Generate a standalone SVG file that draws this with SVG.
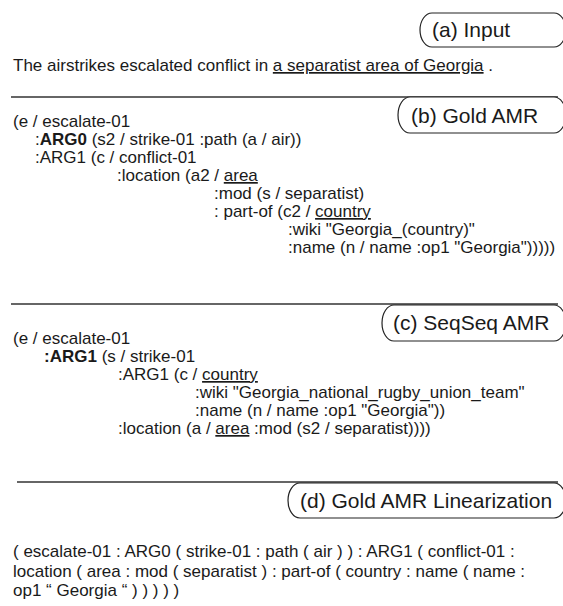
<svg xmlns="http://www.w3.org/2000/svg" width="563" height="606" viewBox="0 0 563 606">
<style>
.t{font-family:"Liberation Sans",Arial,sans-serif;font-size:17px;fill:#1a1a1a}
.l{font-family:"Liberation Sans",Arial,sans-serif;font-size:21px;fill:#1a1a1a}
.b{font-weight:bold}
.n{font-weight:normal}
.u{text-decoration:underline}
.box{fill:#fff;stroke:#222;stroke-width:1.2}
.rule{stroke:#333;stroke-width:1.5}
</style>
<rect width="563" height="606" fill="#fff"/>
<g id="panel-a">
 <rect class="box" x="420" y="13" width="146" height="34" rx="12" ry="17"/>
 <text class="l" x="432" y="37">(a) Input</text>
 <text class="t" x="13" y="71">The airstrikes escalated conflict in <tspan class="u">a separatist area of Georgia</tspan> .</text>
</g>
<g id="panel-b">
 <line class="rule" x1="11" y1="97" x2="558" y2="97"/>
 <rect class="box" x="398" y="97" width="168" height="36" rx="12" ry="18"/>
 <text class="l" x="411" y="123">(b) Gold AMR</text>
 <text class="t" x="13" y="127">(e / escalate-01</text>
 <text class="t" x="35" y="145">:<tspan class="b">ARG0</tspan> (s2 / strike-01 :path (a / air))</text>
 <text class="t" x="35" y="163">:ARG1 (c / conflict-01</text>
 <text class="t" x="117" y="181">:location (a2 / <tspan class="u">area</tspan></text>
 <text class="t" x="214" y="199">:mod (s / separatist)</text>
 <text class="t" x="214" y="217">: part-of (c2 / <tspan class="u">country</tspan></text>
 <text class="t" x="288" y="235">:wiki "Georgia_(country)"</text>
 <text class="t" x="288" y="253">:name (n / name :op1 "Georgia")))))</text>
</g>
<g id="panel-c">
 <line class="rule" x1="11" y1="304" x2="558" y2="304"/>
 <rect class="box" x="382" y="305" width="184" height="36" rx="12" ry="18"/>
 <text class="l" x="393" y="330">(c) SeqSeq AMR</text>
 <text class="t" x="13" y="344">(e / escalate-01</text>
 <text class="t b" x="44" y="362">:ARG1<tspan class="n"> (s / strike-01</tspan></text>
 <text class="t" x="118" y="380">:ARG1 (c / <tspan class="u">country</tspan></text>
 <text class="t" x="195" y="398">:wiki "Georgia_national_rugby_union_team"</text>
 <text class="t" x="195" y="416">:name (n / name :op1 "Georgia"))</text>
 <text class="t" x="118" y="434">:location (a / <tspan class="u">area</tspan> :mod (s2 / separatist))))</text>
</g>
<g id="panel-d">
 <line class="rule" x1="17" y1="482" x2="558" y2="482"/>
 <rect class="box" x="288" y="483" width="278" height="35" rx="12" ry="17.5"/>
 <text class="l" x="300" y="508">(d) Gold AMR Linearization</text>
 <text class="t" x="13" y="557">( escalate-01 : ARG0 ( strike-01 : path ( air ) ) : ARG1 ( conflict-01 :</text>
 <text class="t" x="13" y="576.5">location ( area : mod ( separatist ) : part-of ( country : name ( name :</text>
 <text class="t" x="13" y="596">op1 “ Georgia “ ) ) ) ) )</text>
</g>
</svg>
